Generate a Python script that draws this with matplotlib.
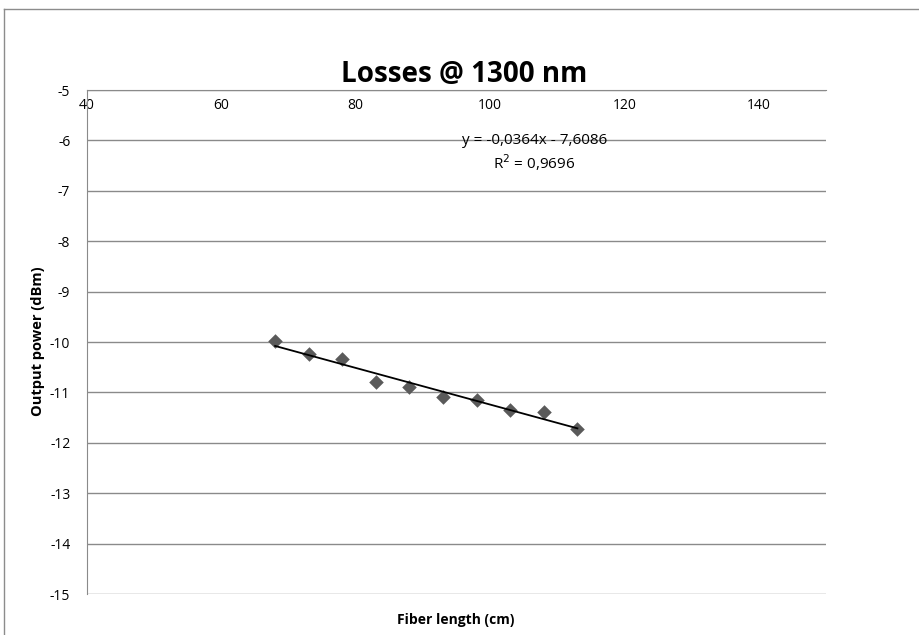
import matplotlib
matplotlib.use("Agg")
import matplotlib.pyplot as plt
import numpy as np
from matplotlib.lines import Line2D

fiber_length = [68, 73, 78, 83, 88, 93, 98, 103, 108, 113]
output_power = [-9.99, -10.24, -10.34, -10.79, -10.89, -11.10, -11.15, -11.35, -11.38, -11.73]
x_ticks = [40, 60, 80, 100, 120, 140]
y_ticks = [-5, -6, -7, -8, -9, -10, -11, -12, -13, -14, -15]
title = "Losses @ 1300 nm"
eq_text = "y = -0,0364x - 7,6086"
r2_text = "R$^2$ = 0,9696"

plt.rcParams['font.family'] = ['Open Sans', 'DejaVu Sans']

fig = plt.figure(figsize=(9.2, 6.35), dpi=100)
ax = fig.add_axes([87/920, 1-594/635, (826-87)/920, (594-90)/635])

grid_c = '#8a8a8a'
for yv in y_ticks:
    ax.axhline(yv, color=grid_c, lw=1.0, zorder=1)

ax.scatter(fiber_length, output_power, marker='D', s=55, color='#5a5a5a', zorder=3, linewidths=0)

coef = np.polyfit(fiber_length, output_power, 1)
xs = np.array([min(fiber_length), max(fiber_length)])
ax.plot(xs, np.polyval(coef, xs), color='black', lw=1.3, zorder=4)

ax.set_xlim(40, 150)
ax.set_ylim(-15, -5)
ax.set_xticks(x_ticks)
ax.set_yticks(y_ticks)
ax.set_xticklabels([str(v) for v in x_ticks], fontsize=10)
ax.set_yticklabels([str(v) for v in y_ticks], fontsize=10)

ax.spines['bottom'].set_position(('data', -5))
ax.spines['bottom'].set_color(grid_c)
ax.spines['left'].set_color(grid_c)
ax.spines['top'].set_visible(False)
ax.spines['right'].set_visible(False)
ax.tick_params(axis='both', length=0)
ax.tick_params(axis='x', pad=6)
ax.tick_params(axis='y', pad=12)

ax.text(106.6, -6.0, eq_text, ha='center', va='center', fontsize=11, zorder=5)
ax.text(106.6, -6.44, r2_text, ha='center', va='center', fontsize=11, zorder=5)

fig.text(464/920, 1-75/635, title, ha='center', va='center', fontsize=20, fontweight='bold')
fig.text(38/920, 1-341/635, "Output power (dBm)", ha='center', va='center', rotation=90,
         fontsize=10.5, fontweight='bold')
fig.text(456/920, 1-620/635, "Fiber length (cm)", ha='center', va='center', fontsize=10, fontweight='bold')

# chart-area border (partially visible)
fig.add_artist(Line2D([4/920, 1.0], [1-9/635, 1-9/635], color='#8c8c8c', lw=1, transform=fig.transFigure))
fig.add_artist(Line2D([4/920, 4/920], [0.0, 1-9/635], color='#8c8c8c', lw=1, transform=fig.transFigure))

fig.savefig("out.png", dpi=100)
